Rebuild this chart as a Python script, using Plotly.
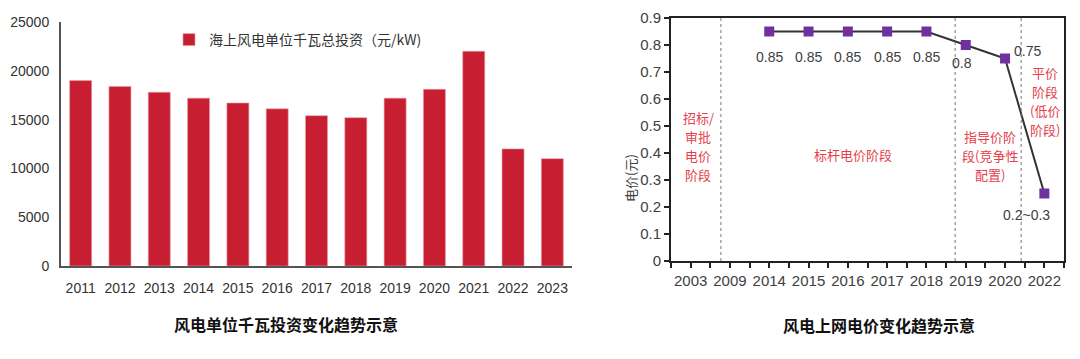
import plotly.graph_objects as go

# ---------------- data ----------------
invest_years = ["2011", "2012", "2013", "2014", "2015", "2016", "2017",
                "2018", "2019", "2020", "2021", "2022", "2023"]
invest_values = [19000, 18400, 17800, 17200, 16700, 16100, 15400,
                 15200, 17200, 18100, 22000, 12000, 11000]
invest_y_ticks = [0, 5000, 10000, 15000, 20000, 25000]
invest_series_name = "海上风电单位千瓦总投资（元/kW)"

price_years = ["2003", "2009", "2014", "2015", "2016", "2017", "2018",
               "2019", "2020", "2022"]
price_point_years = ["2014", "2015", "2016", "2017", "2018", "2019", "2020", "2022"]
price_values = [0.85, 0.85, 0.85, 0.85, 0.85, 0.80, 0.75, 0.25]
price_labels = ["0.85", "0.85", "0.85", "0.85", "0.85", "0.8", "0.75", "0.2~0.3"]
price_y_ticks = [0, 0.1, 0.2, 0.3, 0.4, 0.5, 0.6, 0.7, 0.8, 0.9]
# phase dividers, in category-index units of the price axis
phase_dividers = [0.77, 6.73, 8.41]
phase_lines = [
    ["招标/", "审批", "电价", "阶段"],
    ["标杆电价阶段"],
    ["指导价阶", "段(竞争性", "配置)"],
    ["平价", "阶段", "(低价", "阶段)"],
]
# anchor (category index, value) of each phase label's first line
phase_text_pos = [(0.19, 0.53), (4.13, 0.393), (7.62, 0.46), (9.02, 0.70)]

title_left = "风电单位千瓦投资变化趋势示意"
title_right = "风电上网电价变化趋势示意"

# ---------------- figure ----------------
W, H = 1080, 359
FONT = "Liberation Sans, Arial, Noto Sans CJK SC, sans-serif"
CJK = "Noto Sans CJK SC, Liberation Sans, sans-serif"
RED = "#C81E32"
PHASE_RED = "#E5404A"
PURPLE = "#7030A0"

def px_x(p):
    return p / W

def px_y(p):
    return 1 - p / H

fig = go.Figure()

fig.add_trace(go.Bar(
    x=invest_years, y=invest_values, name=invest_series_name,
    marker=dict(color=RED, line=dict(color="#E8A0A8", width=0.6)),
    xaxis="x", yaxis="y", showlegend=True,
))

idx = [price_years.index(y) for y in price_point_years]
fig.add_trace(go.Scatter(
    x=idx, y=price_values, mode="lines+markers",
    line=dict(color="#333333", width=2),
    marker=dict(symbol="square", size=10, color=PURPLE),
    xaxis="x2", yaxis="y2", showlegend=False,
))

annotations = []
label_offsets = [(0, -25)] * 5 + [(-4, -18), (22, 8), (-18, -21)]
for xi, yv, lab, (dx, dy) in zip(idx, price_values, price_labels, label_offsets):
    annotations.append(dict(
        x=xi, y=yv, xref="x2", yref="y2", text=lab, showarrow=False,
        xanchor="center", yanchor="middle",
        xshift=dx, yshift=dy, font=dict(family=FONT, size=14, color="#404040"),
    ))

LINE_STEP = 19
for lines, (tx, ty) in zip(phase_lines, phase_text_pos):
    for k, line in enumerate(lines):
        annotations.append(dict(
            x=tx, y=ty, xref="x2", yref="y2", text=line, showarrow=False,
            xanchor="center", yanchor="middle",
            yshift=-k * LINE_STEP,
            font=dict(family=CJK, size=13, color=PHASE_RED), align="center",
        ))

shapes = []
for d in phase_dividers:
    shapes.append(dict(
        type="line", xref="x2", yref="y2", x0=d, x1=d, y0=0, y1=0.9,
        line=dict(color="#777777", width=1, dash="dot"),
    ))

annotations.append(dict(
    x=px_x(630), y=px_y(178), xref="paper", yref="paper", text="电价(元)",
    xanchor="center", yanchor="middle",
    textangle=-90, showarrow=False, font=dict(family=CJK, size=13, color="#404040"),
))
annotations.append(dict(
    x=px_x(286), y=px_y(324), xref="paper", yref="paper",
    xanchor="center", yanchor="middle",
    text="<b>" + title_left + "</b>", showarrow=False,
    font=dict(family=CJK, size=16, color="#111111"),
))
annotations.append(dict(
    x=px_x(879), y=px_y(325), xref="paper", yref="paper",
    xanchor="center", yanchor="middle",
    text="<b>" + title_right + "</b>", showarrow=False,
    font=dict(family=CJK, size=16, color="#111111"),
))

fig.update_layout(
    width=W, height=H,
    margin=dict(l=0, r=0, t=0, b=0, autoexpand=False),
    paper_bgcolor="white", plot_bgcolor="white",
    bargap=0.44,
    font=dict(family=FONT, size=14, color="#404040"),
    xaxis=dict(
        domain=[px_x(61), px_x(572)], type="category", automargin=False,
        showline=True, linecolor="#555555", linewidth=2,
        showgrid=False, ticks="", ticklabelstandoff=8,
        tickfont=dict(size=14, color="#333333"),
        anchor="y",
    ),
    yaxis=dict(
        domain=[px_y(266), px_y(22)], range=[0, 25000], automargin=False,
        tickmode="array", tickvals=invest_y_ticks,
        ticktext=[str(v) for v in invest_y_ticks],
        showline=True, linecolor="#555555", linewidth=2,
        showgrid=False, zeroline=False, ticks="", ticklabelstandoff=7,
        tickfont=dict(size=14, color="#333333"),
        anchor="x",
    ),
    xaxis2=dict(
        domain=[px_x(671), px_x(1064)], range=[-0.5, len(price_years) - 0.5],
        automargin=False,
        tickmode="array", tickvals=list(range(len(price_years))), ticktext=price_years,
        showline=True, mirror=True, linecolor="#222222", linewidth=2,
        showgrid=False, zeroline=False,
        ticks="outside", ticklen=5, tickwidth=1.5, tickcolor="#222222",
        minor=dict(tickmode="array",
                   tickvals=[i - 0.5 for i in range(len(price_years) + 1)],
                   ticks="outside", ticklen=5, tickwidth=1.5, tickcolor="#222222"),
        tickfont=dict(size=15, color="#404040"),
        anchor="y2",
    ),
    yaxis2=dict(
        domain=[px_y(261), px_y(18)], range=[0, 0.9], automargin=False,
        tickmode="array", tickvals=price_y_ticks,
        ticktext=[("%g" % v) for v in price_y_ticks],
        showline=True, mirror=True, linecolor="#222222", linewidth=2,
        showgrid=False, zeroline=False,
        ticks="outside", ticklen=5, tickwidth=1.5, tickcolor="#222222",
        tickfont=dict(size=15, color="#404040"),
        anchor="x2",
    ),
    legend=dict(
        x=px_x(169), y=px_y(40), xanchor="left", yanchor="middle",
        bgcolor="rgba(0,0,0,0)", font=dict(family=CJK, size=14, color="#333333"),
    ),
    annotations=annotations,
    shapes=shapes,
)

fig.write_html(
    "out.html",
    config={"displayModeBar": False},
    post_script="document.body.style.margin='0';document.body.style.overflow='hidden';",
)
